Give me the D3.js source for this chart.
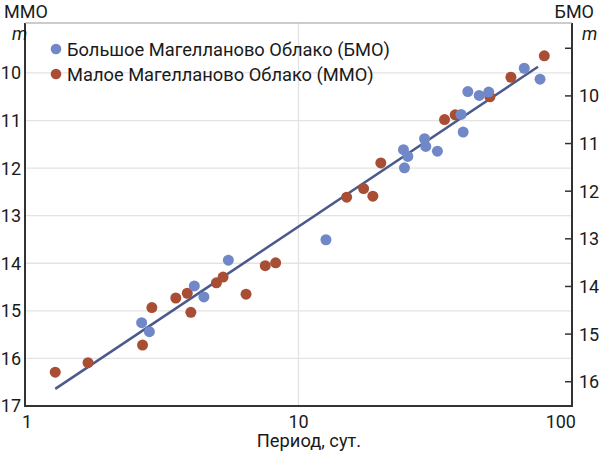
<!DOCTYPE html>
<html>
<head>
<meta charset="utf-8">
<script src="https://cdn.jsdelivr.net/npm/d3@7"></script>
<style>
  body { margin: 0; background: #fff; }
  svg text { font-family: Roboto, "Noto Sans", sans-serif; fill: #1a1a1a; }
</style>
</head>
<body>
<svg id="chart" width="600" height="453"></svg>
<script>
// periods (days) and magnitudes
const lmcPeriod = [2.67, 2.85, 4.16, 4.51, 5.54, 12.6, 24.2, 25.1, 24.4, 28.9, 29.2, 32.2, 39.3, 40.0, 41.6, 45.8, 49.6, 66.9, 76.4];
const lmcMag    = [14.77, 14.96, 14.00, 14.23, 13.46, 13.03, 11.14, 11.28, 11.52, 10.91, 11.07, 11.17, 10.40, 10.77, 9.92, 10.00, 9.93, 9.43, 9.66];
const smcPeriod = [1.29, 1.70, 2.69, 2.91, 3.56, 3.92, 4.04, 5.01, 5.30, 6.43, 7.56, 8.25, 15.0, 17.3, 18.7, 20.0, 34.2, 37.4, 50.1, 59.8, 79.2];
const smcMag    = [16.29, 16.09, 15.72, 14.93, 14.73, 14.63, 15.03, 14.41, 14.29, 14.65, 14.05, 13.99, 12.61, 12.43, 12.59, 11.89, 10.98, 10.88, 10.50, 10.09, 9.64];
const fitPeriod = [1.29, 75.1];
const fitMag    = [16.64, 9.87];   // in ММО magnitudes

const xTicks = [1, 10, 100];
const leftTicks = [10, 11, 12, 13, 14, 15, 16, 17];
const rightTicks = [9, 10, 11, 12, 13, 14, 15, 16];
const legendLabels = ["Большое Магелланово Облако (БМО)", "Малое Магелланово Облако (ММО)"];

const blue = "#7188c8",
      red = "#a84e34",
      lineColor = "#4b5a8c";

const svg = d3.select("#chart");
const m = {left: 25, right: 572, top: 23, bottom: 406};

const x = d3.scaleLog().domain([1, 100]).range([m.left, m.right]);
const yL = d3.scaleLinear().domain([8.95, 17]).range([m.top, m.bottom]);
const yR = d3.scaleLinear().domain([8.48, 16.52]).range([m.top, m.bottom]);

// grid
svg.append("g").selectAll("line").data(leftTicks.slice(0, -1)).join("line")
  .attr("x1", m.left).attr("x2", m.right)
  .attr("y1", d => yL(d)).attr("y2", d => yL(d))
  .attr("stroke", "#e3e3e3").attr("stroke-width", 1.3);
svg.append("line")
  .attr("x1", x(10)).attr("x2", x(10)).attr("y1", m.top).attr("y2", m.bottom)
  .attr("stroke", "#e3e3e3").attr("stroke-width", 1.3);

// frame
svg.append("path")
  .attr("d", `M${m.left},${m.top}V${m.bottom}H${m.right}V${m.top}`)
  .attr("fill", "none").attr("stroke", "#333").attr("stroke-width", 2);
svg.append("line")
  .attr("x1", m.left).attr("x2", m.right).attr("y1", m.top).attr("y2", m.top)
  .attr("stroke", "#999").attr("stroke-width", 1);

// left axis labels
svg.append("g").selectAll("text").data(leftTicks).join("text")
  .attr("x", m.left - 4).attr("y", d => yL(d))
  .attr("dy", "0.36em").attr("text-anchor", "end")
  .style("font-size", "18px").text(d => d);

// right axis (ticks inside)
const rAxis = svg.append("g").attr("transform", `translate(${m.right},0)`)
  .call(d3.axisRight(yR).tickValues(rightTicks).tickSize(0).tickPadding(7)
    .tickFormat(d => d === 9 ? "" : d));
rAxis.select(".domain").remove();
rAxis.selectAll("text").style("font-size", "18px").attr("dy", "0.36em");
rAxis.selectAll(".tick").append("line")
  .attr("x1", -7).attr("x2", 0).attr("stroke", "#333").attr("stroke-width", 1.5);

// bottom axis labels
svg.append("g").selectAll("text").data(xTicks).join("text")
  .attr("x", d => x(d)).attr("y", m.bottom + 22)
  .attr("text-anchor", d => d === 1 ? "start" : d === 100 ? "end" : "middle")
  .attr("dx", d => d === 1 ? -3 : d === 100 ? 4 : 0)
  .style("font-size", "18px").text(d => d);

svg.append("text").attr("x", 309).attr("y", 447).attr("text-anchor", "middle")
  .style("font-size", "18.3px").text("Период, сут.");

// axis titles
svg.append("text").attr("x", 4).attr("y", 18).style("font-size", "18px").text("ММО");
svg.append("text").attr("x", 12).attr("y", 40).style("font-size", "18px")
  .style("font-style", "italic").text("m");
svg.append("text").attr("x", 594).attr("y", 18).attr("text-anchor", "end")
  .style("font-size", "18px").text("БМО");
svg.append("text").attr("x", 582).attr("y", 40).style("font-size", "18px")
  .style("font-style", "italic").text("m");

// fit line
svg.append("line")
  .attr("x1", x(fitPeriod[0])).attr("y1", yL(fitMag[0]))
  .attr("x2", x(fitPeriod[1])).attr("y2", yL(fitMag[1]))
  .attr("stroke", lineColor).attr("stroke-width", 2.5);

// points
svg.append("g").selectAll("circle").data(d3.range(smcPeriod.length)).join("circle")
  .attr("cx", i => x(smcPeriod[i])).attr("cy", i => yL(smcMag[i]))
  .attr("r", 5.5).attr("fill", red);
svg.append("g").selectAll("circle").data(d3.range(lmcPeriod.length)).join("circle")
  .attr("cx", i => x(lmcPeriod[i])).attr("cy", i => yR(lmcMag[i]))
  .attr("r", 5.5).attr("fill", blue);

// legend
const lg = svg.append("g").selectAll("g").data(legendLabels).join("g")
  .attr("transform", (d, i) => `translate(56,${49 + i * 25})`);
lg.append("circle").attr("r", 5.3).attr("fill", (d, i) => i ? red : blue);
lg.append("text").attr("x", 11).attr("dy", "0.36em")
  .style("font-size", "18.3px").text(d => d);
</script>
</body>
</html>
